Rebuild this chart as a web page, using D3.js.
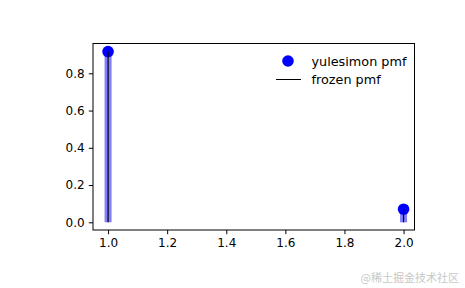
<!DOCTYPE html>
<html>
<head>
<meta charset="utf-8">
<script src="https://cdn.jsdelivr.net/npm/d3@7"></script>
<style>
  html, body { margin: 0; padding: 0; background: #fff; }
  svg { display: block; font-family: "DejaVu Sans", sans-serif; }
</style>
</head>
<body>
<svg width="465" height="288"></svg>
<script>
// yulesimon pmf, alpha = 11
const xs = [1, 2];
const pmf = [0.9167, 0.0705];
const xTickValues = [1.0, 1.2, 1.4, 1.6, 1.8, 2.0];
const yTickValues = [0.0, 0.2, 0.4, 0.6, 0.8];
const legendLabels = ["yulesimon pmf", "frozen pmf"];

const svg = d3.select("svg");
const marginLeft = 93;
const marginTop = 43.5;
const plotRight = 414.5;
const plotBottom = 230;

const x = d3.scaleLinear().domain([0.949, 2.037]).range([marginLeft, plotRight]);
const y = d3.scaleLinear().domain([-0.0413, 0.96]).range([plotBottom, marginTop]);

const fmt = d3.format(".1f");

// axes
const xAxis = svg
  .append("g")
  .attr("transform", `translate(0,${plotBottom})`)
  .call(d3.axisBottom(x).tickValues(xTickValues).tickFormat(fmt).tickSize(4.2).tickPadding(4.2).tickSizeOuter(0));
const yAxis = svg
  .append("g")
  .attr("transform", `translate(${marginLeft},0)`)
  .call(d3.axisLeft(y).tickValues(yTickValues).tickFormat(fmt).tickSize(4.2).tickPadding(4.2).tickSizeOuter(0));
[xAxis, yAxis].forEach((g) => {
  g.select(".domain").remove();
  g.selectAll("line").attr("stroke", "#000").attr("stroke-width", 1);
  g.selectAll("text").attr("fill", "#000").attr("font-size", 12).attr("font-family", '"DejaVu Sans", sans-serif');
});

// vlines (blue, thick, translucent)
svg
  .append("g")
  .selectAll("line")
  .data(xs)
  .enter()
  .append("line")
  .attr("x1", (d) => x(d))
  .attr("x2", (d) => x(d))
  .attr("y1", y(0))
  .attr("y2", (d, i) => y(pmf[i]))
  .attr("stroke", "rgba(0,0,255,0.5)")
  .attr("stroke-width", 7);

// markers
svg
  .append("g")
  .selectAll("circle")
  .data(xs)
  .enter()
  .append("circle")
  .attr("cx", (d) => x(d))
  .attr("cy", (d, i) => y(pmf[i]))
  .attr("r", 5.8)
  .attr("fill", "#0000ff");

// frozen vlines (black)
svg
  .append("g")
  .selectAll("line")
  .data(xs)
  .enter()
  .append("line")
  .attr("x1", (d) => x(d))
  .attr("x2", (d) => x(d))
  .attr("y1", y(0))
  .attr("y2", (d, i) => y(pmf[i]))
  .attr("stroke", "#000")
  .attr("stroke-width", 1.2);

// spines
svg
  .append("rect")
  .attr("x", marginLeft)
  .attr("y", marginTop)
  .attr("width", plotRight - marginLeft)
  .attr("height", plotBottom - marginTop)
  .attr("fill", "none")
  .attr("stroke", "#000")
  .attr("stroke-width", 1);

// legend
const legend = svg.append("g").attr("transform", "translate(276,61)");
legend.append("circle").attr("cx", 12).attr("cy", 0).attr("r", 5.8).attr("fill", "#0000ff");
legend
  .append("line")
  .attr("x1", 0)
  .attr("x2", 25)
  .attr("y1", 18.5)
  .attr("y2", 18.5)
  .attr("stroke", "#000")
  .attr("stroke-width", 1);
legend
  .selectAll("text")
  .data(legendLabels)
  .enter()
  .append("text")
  .attr("x", 35.5)
  .attr("y", (d, i) => i * 18.5 + 4.7)
  .attr("font-size", 12.8)
  .attr("fill", "#000")
  .text((d) => d);

// watermark
svg
  .append("text")
  .attr("x", 459)
  .attr("y", 282)
  .attr("text-anchor", "end")
  .attr("font-size", 11)
  .attr("font-family", '"Noto Sans CJK SC", sans-serif')
  .attr("fill", "#c8c8c8")
  .text("@稀土掘金技术社区");
</script>
</body>
</html>
